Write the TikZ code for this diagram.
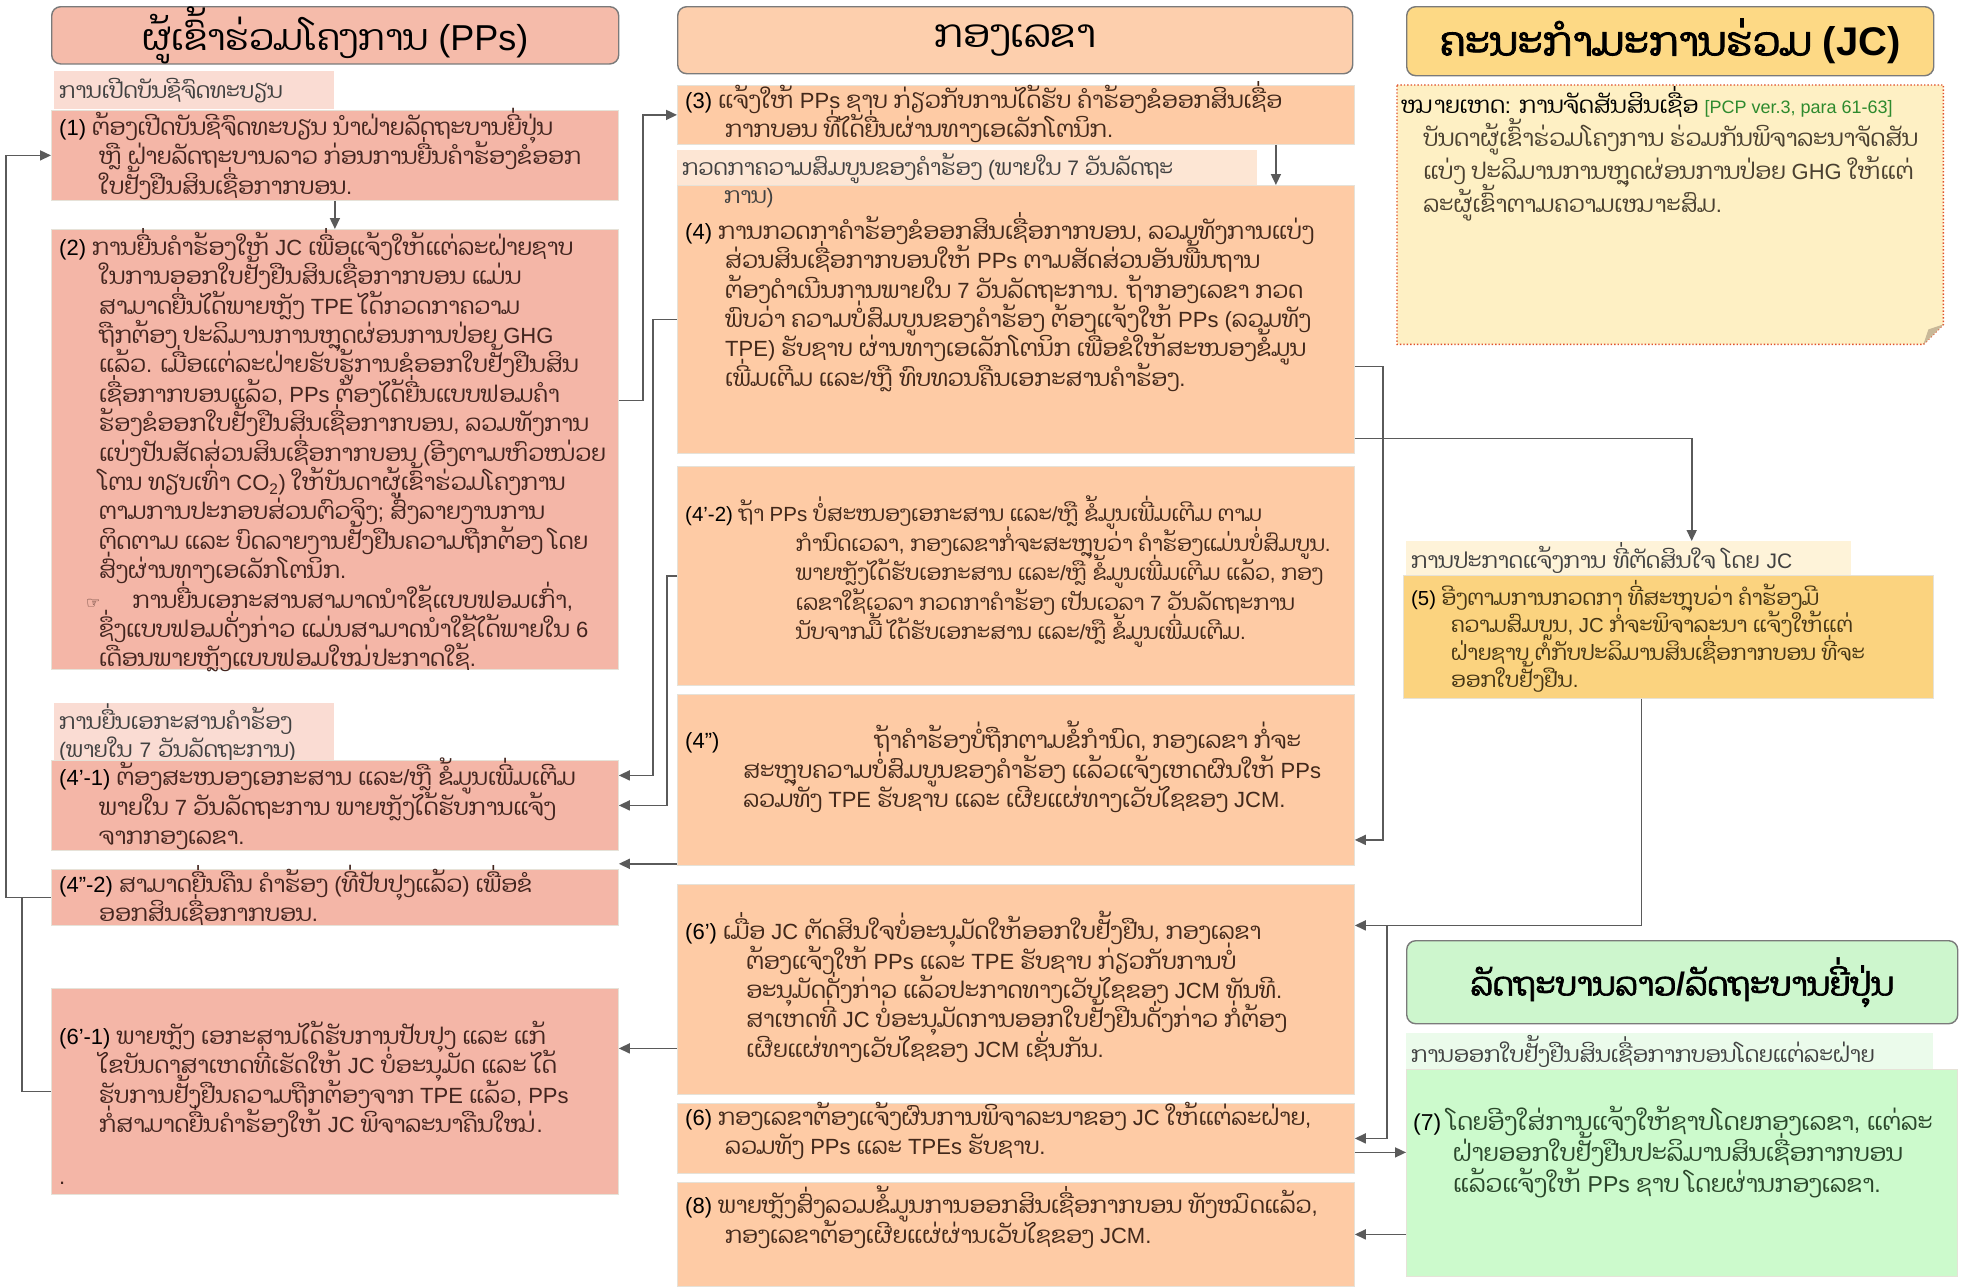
\documentclass[tikz,border=0pt]{standalone}
\usepackage{fontspec}
\setmainfont{Liberation Sans}
\newfontfamily\laobody[Script=Lao,Scale=1.05,AutoFakeBold=2]{Dhyana}
\newfontfamily\laoplain[Script=Lao,AutoFakeBold=2]{Dhyana}
\newfontfamily\latinfont{Liberation Sans}
\newfontfamily\symfont{DejaVu Sans}
\usepackage{xcolor}
\usepackage{tikz}
\usetikzlibrary{positioning,calc,arrows.meta}

% Lao runs go to Dhyana, everything else stays in Liberation Sans
\let\curlao\laobody
\XeTeXinterchartokenstate=1
\newXeTeXintercharclass\laoclass
\newcount\laochar
\laochar="0E80
\loop
  \XeTeXcharclass\laochar=\laoclass
  \advance\laochar by 1
\ifnum\laochar<"0F00 \repeat
\XeTeXinterchartoks 0 \laoclass = {\curlao}
\XeTeXinterchartoks 4095 \laoclass = {\curlao}
\XeTeXinterchartoks \laoclass 0 = {\latinfont}
\XeTeXinterchartoks \laoclass 4095 = {\latinfont}

\definecolor{pphead}{HTML}{F5BBAA}
\definecolor{ppfill}{HTML}{F4B6A7}
\definecolor{pplabel}{HTML}{FADCD3}
\definecolor{pptext}{HTML}{42241E}
\definecolor{sechead}{HTML}{FDCFAD}
\definecolor{secfill}{HTML}{FECBA5}
\definecolor{seclabel}{HTML}{FDE6D4}
\definecolor{sectext}{HTML}{42281A}
\definecolor{jchead}{HTML}{FDD985}
\definecolor{jcnote}{HTML}{FEF0C4}
\definecolor{jcfill}{HTML}{FBD37F}
\definecolor{jclabel}{HTML}{FEF3D9}
\definecolor{jctext}{HTML}{443414}
\definecolor{govhead}{HTML}{CDF6CD}
\definecolor{govfill}{HTML}{CCFACC}
\definecolor{govlabel}{HTML}{EBFBEB}
\definecolor{govtext}{HTML}{2A462A}
\definecolor{labtext}{HTML}{404040}
\definecolor{notetext}{HTML}{4A4030}
\definecolor{pcpgreen}{HTML}{2E8A2E}
\definecolor{notered}{HTML}{E0502A}
\definecolor{foldtan}{HTML}{C8B898}
\definecolor{edge}{HTML}{E6E2D8}
\definecolor{headline}{HTML}{7A7A7A}
\definecolor{wire}{HTML}{5A5A5A}

\newcommand{\bodyfont}{\fontsize{22}{29.4}\selectfont\lineskiplimit=-40pt\relax}
\newcommand{\smallbody}{\fontsize{20.5}{29.4}\selectfont\lineskiplimit=-40pt\relax}
\newcommand{\govfont}{\fontsize{23}{31}\selectfont\lineskiplimit=-40pt\relax}
\newcommand{\labelfont}{\fontsize{21}{28}\selectfont\lineskiplimit=-40pt\relax}
\newcommand{\notefont}{\fontsize{22}{33}\selectfont\lineskiplimit=-40pt\relax}
\newcommand{\fivefont}{\fontsize{20.3}{27.5}\selectfont\lineskiplimit=-40pt\relax}
\newcommand{\headfont}[1]{\fontsize{#1}{#1}\selectfont\let\curlao\laoplain}
\newcommand{\ind}[1][40]{\hspace*{#1pt}}
\newcommand{\stepno}[1]{{\color{black}#1}}

\begin{document}
\begin{tikzpicture}[x=1pt, y=1pt,
    box/.style={draw=edge, line width=0.8pt, fill=#1, inner sep=0pt, anchor=north west},
    head/.style={draw=headline, line width=1.4pt, rounded corners=9pt, fill=#1, inner sep=0pt, anchor=north west},
    tag/.style={fill=#1, inner sep=0pt, inner xsep=5pt, anchor=north west, align=left, text=labtext, font=\labelfont},
    txt/.style={anchor=north west, inner sep=0pt, align=left, font=\bodyfont, text=#1},
    link/.style={draw=wire, line width=1.6pt},
    arr/.style={link, -{Triangle[length=11pt, width=10pt]}}]

    \fill[white] (0,0) rectangle (1961,-1286);
    \useasboundingbox (0,0) rectangle (1961,-1286);

    % Project participants
    \node[head=pphead, minimum width=567, minimum height=57, font=\headfont{36}] (pphdr) at (51,-6) {ຜູ້ເຂົ້າຮ່ວມໂຄງການ (PPs)};
    \node[tag=pplabel, text width=270, minimum height=38] (pplab1) at (54,-71) {ການເປີດບັນຊີຈົດທະບຽນ};
    \node[box=ppfill, minimum width=567, minimum height=90] (n1) at (51,-110) {};
    \node[txt=pptext] (t1) at (59,-108) {\stepno{(1)} ຕ້ອງເປີດບັນຊີຈົດທະບຽນ ນຳຝ່າຍລັດຖະບານຍີ່ປຸ່ນ\\
        \ind ຫຼື ຝ່າຍລັດຖະບານລາວ ກ່ອນການຍື່ນຄຳຮ້ອງຂໍອອກ\\
        \ind ໃບຢັ້ງຢືນສິນເຊື່ອກາກບອນ.};
    \node[box=ppfill, minimum width=567, minimum height=440] (n2) at (51,-229) {};
    \node[txt=pptext] (t2) at (59,-228) {\stepno{(2)} ການຍື່ນຄຳຮ້ອງໃຫ້ JC ເພື່ອແຈ້ງໃຫ້ແຕ່ລະຝ່າຍຊາບ\\
        \ind ໃນການອອກໃບຢັ້ງຢືນສິນເຊື່ອກາກບອນ ແມ່ນ\\
        \ind ສາມາດຍື່ນໄດ້ພາຍຫຼັງ TPE ໄດ້ກວດກາຄວາມ\\
        \ind ຖືກຕ້ອງ ປະລິມານການຫຼຸດຜ່ອນການປ່ອຍ GHG\\
        \ind ແລ້ວ. ເມື່ອແຕ່ລະຝ່າຍຮັບຮູ້ການຂໍອອກໃບຢັ້ງຢືນສິນ\\
        \ind ເຊື່ອກາກບອນແລ້ວ, PPs ຕ້ອງໄດ້ຍື່ນແບບຟອມຄຳ\\
        \ind ຮ້ອງຂໍອອກໃບຢັ້ງຢືນສິນເຊື່ອກາກບອນ, ລວມທັງການ\\
        \ind ແບ່ງປັນສັດສ່ວນສິນເຊື່ອກາກບອນ (ອີງຕາມຫົວໜ່ວຍ\\
        \ind ໂຕນ ທຽບເທົ່າ CO\textsubscript{2}) ໃຫ້ບັນດາຜູ້ເຂົ້າຮ່ວມໂຄງການ\\
        \ind ຕາມການປະກອບສ່ວນຕົວຈິງ; ສົ່ງລາຍງານການ\\
        \ind ຕິດຕາມ ແລະ ບົດລາຍງານຢັ້ງຢືນຄວາມຖືກຕ້ອງ ໂດຍ\\
        \ind ສົ່ງຜ່ານທາງເອເລັກໂຕນິກ.\\
        \ind[27]{\symfont\fontsize{16}{20}\selectfont ☞}\hspace{32pt}ການຍື່ນເອກະສານສາມາດນຳໃຊ້ແບບຟອມເກົ່າ,\\
        \ind ຊຶ່ງແບບຟອມດັ່ງກ່າວ ແມ່ນສາມາດນຳໃຊ້ໄດ້ພາຍໃນ 6\\
        \ind ເດືອນພາຍຫຼັງແບບຟອມໃໝ່ປະກາດໃຊ້.};
    \node[tag=pplabel, text width=270, minimum height=57] (pplab2) at (54,-703) {ການຍື່ນເອກະສານຄຳຮ້ອງ\\ (ພາຍໃນ 7 ວັນລັດຖະການ)};
    \node[box=ppfill, minimum width=567, minimum height=90] (n4pa) at (51,-760) {};
    \node[txt=pptext] (t4pa) at (59,-758) {\stepno{(4’-1)} ຕ້ອງສະໜອງເອກະສານ ແລະ/ຫຼື ຂໍ້ມູນເພີ່ມເຕີມ\\
        \ind ພາຍໃນ 7 ວັນລັດຖະການ ພາຍຫຼັງໄດ້ຮັບການແຈ້ງ\\
        \ind ຈາກກອງເລຂາ.};
    \node[box=ppfill, minimum width=567, minimum height=56] (n4ppb) at (51,-869) {};
    \node[txt=pptext] (t4ppb) at (59,-865) {\stepno{(4”-2)} ສາມາດຍື່ນຄືນ ຄຳຮ້ອງ (ທີ່ປັບປຸງແລ້ວ) ເພື່ອຂໍ\\
        \ind ອອກສິນເຊື່ອກາກບອນ.};
    \node[box=ppfill, minimum width=567, minimum height=206] (n6pa) at (51,-988) {};
    \node[txt=pptext] (t6pa) at (59,-1021) {\stepno{(6’-1)} ພາຍຫຼັງ ເອກະສານໄດ້ຮັບການປັບປຸງ ແລະ ແກ້\\
        \ind ໄຂບັນດາສາເຫດທີ່ເຮັດໃຫ້ JC ບໍ່ອະນຸມັດ ແລະ ໄດ້\\
        \ind ຮັບການຢັ້ງຢືນຄວາມຖືກຕ້ອງຈາກ TPE ແລ້ວ, PPs\\
        \ind ກໍ່ສາມາດຍື່ນຄຳຮ້ອງໃຫ້ JC ພິຈາລະນາຄືນໃໝ່.\\[22pt]
        .};

    % Secretariat
    \node[head=sechead, minimum width=675, minimum height=67, font=\headfont{39}] (sechdr) at (677,-6) {ກອງເລຂາ};
    \node[box=secfill, minimum width=677, minimum height=59] (n3) at (677,-85) {};
    \node[txt=sectext] (t3) at (685,-81) {\stepno{(3)} ແຈ້ງໃຫ້ PPs ຊາບ ກ່ຽວກັບການໄດ້ຮັບ ຄຳຮ້ອງຂໍອອກສິນເຊື່ອ\\
        \ind ກາກບອນ ທີ່ໄດ້ຍື່ນຜ່ານທາງເອເລັກໂຕນິກ.};
    \node[box=secfill, minimum width=677, minimum height=268] (n4) at (677,-185) {};
    \node[tag=seclabel, minimum width=580, minimum height=35] (seclab) at (677,-150) {};
    \node[txt=labtext, font=\labelfont] (seclabt) at (682,-153) {ກວດກາຄວາມສົມບູນຂອງຄຳຮ້ອງ (ພາຍໃນ 7 ວັນລັດຖະ\\
        \ind[36] ການ)};
    \node[txt=sectext] (t4) at (685,-212) {\stepno{(4)} ການກວດກາຄຳຮ້ອງຂໍອອກສິນເຊື່ອກາກບອນ, ລວມທັງການແບ່ງ\\
        \ind ສ່ວນສິນເຊື່ອກາກບອນໃຫ້ PPs ຕາມສັດສ່ວນອັນພື້ນຖານ\\
        \ind ຕ້ອງດຳເນີນການພາຍໃນ 7 ວັນລັດຖະການ. ຖ້າກອງເລຂາ ກວດ\\
        \ind ພົບວ່າ ຄວາມບໍ່ສົມບູນຂອງຄຳຮ້ອງ ຕ້ອງແຈ້ງໃຫ້ PPs (ລວມທັງ\\
        \ind TPE) ຮັບຊາບ ຜ່ານທາງເອເລັກໂຕນິກ ເພື່ອຂໍໃຫ້ສະໜອງຂໍ້ມູນ\\
        \ind ເພີ່ມເຕີມ ແລະ/ຫຼື ທົບທວນຄືນເອກະສານຄຳຮ້ອງ.};
    \node[box=secfill, minimum width=677, minimum height=219] (n4pb) at (677,-466) {};
    \node[txt=sectext, font=\smallbody] (t4pb) at (685,-496) {\stepno{(4’-2)} ຖ້າ PPs ບໍ່ສະໜອງເອກະສານ ແລະ/ຫຼື ຂໍ້ມູນເພີ່ມເຕີມ ຕາມ\\
        \ind[105] ກຳນົດເວລາ, ກອງເລຂາກໍ່ຈະສະຫຼຸບວ່າ ຄຳຮ້ອງແມ່ນບໍ່ສົມບູນ.\\
        \ind[105] ພາຍຫຼັງໄດ້ຮັບເອກະສານ ແລະ/ຫຼື ຂໍ້ມູນເພີ່ມເຕີມ ແລ້ວ, ກອງ\\
        \ind[105] ເລຂາໃຊ້ເວລາ ກວດກາຄຳຮ້ອງ ເປັນເວລາ 7 ວັນລັດຖະການ\\
        \ind[105] ນັບຈາກມື້ ໄດ້ຮັບເອກະສານ ແລະ/ຫຼື ຂໍ້ມູນເພີ່ມເຕີມ.};
    \node[box=secfill, minimum width=677, minimum height=171] (n4pp) at (677,-694) {};
    \node[txt=sectext] (t4pp) at (685,-721) {\stepno{(4”)}\hspace{155pt}ຖ້າຄຳຮ້ອງບໍ່ຖືກຕາມຂໍ້ກຳນົດ, ກອງເລຂາ ກໍ່ຈະ\\
        \ind[52] ສະຫຼຸບຄວາມບໍ່ສົມບູນຂອງຄຳຮ້ອງ ແລ້ວແຈ້ງເຫດຜົນໃຫ້ PPs\\
        \ind[52] ລວມທັງ TPE ຮັບຊາບ ແລະ ເຜີຍແຜ່ທາງເວັບໄຊຂອງ JCM.};
    \node[box=secfill, minimum width=677, minimum height=210] (n6p) at (677,-884) {};
    \node[txt=sectext] (t6p) at (685,-911) {\stepno{(6’)} ເມື່ອ JC ຕັດສິນໃຈບໍ່ອະນຸມັດໃຫ້ອອກໃບຢັ້ງຢືນ, ກອງເລຂາ\\
        \ind[55] ຕ້ອງແຈ້ງໃຫ້ PPs ແລະ TPE ຮັບຊາບ ກ່ຽວກັບການບໍ່\\
        \ind[55] ອະນຸມັດດັ່ງກ່າວ ແລ້ວປະກາດທາງເວັບໄຊຂອງ JCM ທັນທີ.\\
        \ind[55] ສາເຫດທີ່ JC ບໍ່ອະນຸມັດການອອກໃບຢັ້ງຢືນດັ່ງກ່າວ ກໍ່ຕ້ອງ\\
        \ind[55] ເຜີຍແຜ່ທາງເວັບໄຊຂອງ JCM ເຊັ່ນກັນ.};
    \node[box=secfill, minimum width=677, minimum height=70] (n6) at (677,-1103) {};
    \node[txt=sectext] (t6) at (685,-1102) {\stepno{(6)} ກອງເລຂາຕ້ອງແຈ້ງຜົນການພິຈາລະນາຂອງ JC ໃຫ້ແຕ່ລະຝ່າຍ,\\
        \ind ລວມທັງ PPs ແລະ TPEs ຮັບຊາບ.};
    \node[box=secfill, minimum width=677, minimum height=104] (n8) at (677,-1182) {};
    \node[txt=sectext] (t8) at (685,-1186) {\stepno{(8)} ພາຍຫຼັງສົ່ງລວມຂໍ້ມູນການອອກສິນເຊື່ອກາກບອນ ທັງໝົດແລ້ວ,\\
        \ind ກອງເລຂາຕ້ອງເຜີຍແຜ່ຜ່ານເວັບໄຊຂອງ JCM.};

    % Joint Committee
    \node[head=jchead, minimum width=527, minimum height=69, font=\headfont{40}\bfseries] (jchdr) at (1406,-6) {ຄະນະກຳມະການຮ່ວມ (JC)};
    \node[minimum width=546, minimum height=259, inner sep=0pt, anchor=north west] (note) at (1397,-85) {};
    \filldraw[fill=jcnote, draw=notered, dotted, line width=1.4pt] (note.north west) -- (note.north east) -- ([yshift=20pt]note.south east) -- ([xshift=-20pt]note.south east) -- (note.south west) -- cycle;
    \fill[foldtan] ([yshift=20pt]note.south east) -- ([xshift=-20pt]note.south east) -- ([xshift=-15pt,yshift=15pt]note.south east) -- cycle;
    \node[txt=notetext, font=\notefont] (tnote) at (1401,-86) {{\color{black}ໝາຍເຫດ: ການຈັດສັນສິນເຊື່ອ} {\fontsize{18}{20}\selectfont\color{pcpgreen}[PCP ver.3, para 61-63]}\\
        \ind[16] ບັນດາຜູ້ເຂົ້າຮ່ວມໂຄງການ ຮ່ວມກັນພິຈາລະນາຈັດສັນ\\
        \ind[16] ແບ່ງ ປະລິມານການຫຼຸດຜ່ອນການປ່ອຍ GHG ໃຫ້ແຕ່\\
        \ind[16] ລະຜູ້ເຂົ້າຕາມຄວາມເໝາະສົມ.};
    \node[tag=jclabel, text width=435, minimum height=34] (n5lab) at (1406,-541) {ການປະກາດແຈ້ງການ ທີ່ຕັດສິນໃຈ ໂດຍ JC};
    \node[box=jcfill, minimum width=530, minimum height=123] (n5) at (1403,-575) {};
    \node[txt=jctext, font=\fivefont] (t5) at (1411,-580) {\stepno{(5)} ອີງຕາມການກວດກາ ທີ່ສະຫຼຸບວ່າ ຄຳຮ້ອງມີ\\
        \ind ຄວາມສົມບູນ, JC ກໍ່ຈະພິຈາລະນາ ແຈ້ງໃຫ້ແຕ່\\
        \ind ຝ່າຍຊາບ ຕໍ່ກັບປະລິມານສິນເຊື່ອກາກບອນ ທີ່ຈະ\\
        \ind ອອກໃບຢັ້ງຢືນ.};

    % Governments
    \node[head=govhead, minimum width=551, minimum height=83, font=\headfont{32.5}\bfseries] (govhdr) at (1406,-940) {ລັດຖະບານລາວ/ລັດຖະບານຍີ່ປຸ່ນ};
    \node[tag=govlabel, text width=517, minimum height=36] (n7lab) at (1406,-1033) {ການອອກໃບຢັ້ງຢືນສິນເຊື່ອກາກບອນໂດຍແຕ່ລະຝ່າຍ};
    \node[box=govfill, minimum width=551, minimum height=207] (n7) at (1406,-1069) {};
    \node[txt=govtext, font=\govfont] (t7) at (1413,-1106) {\stepno{(7)} ໂດຍອີງໃສ່ການແຈ້ງໃຫ້ຊາບໂດຍກອງເລຂາ, ແຕ່ລະ\\
        \ind ຝ່າຍອອກໃບຢັ້ງຢືນປະລິມານສິນເຊື່ອກາກບອນ\\
        \ind ແລ້ວແຈ້ງໃຫ້ PPs ຊາບ ໂດຍຜ່ານກອງເລຂາ.};

    % Connectors
    \coordinate (lbus) at (6,0);
    \coordinate (lbus2) at (22,0);
    \draw[arr] (n1.south) -- (n2.north);
    \draw[arr] ([xshift=260pt]n3.south) -- ([xshift=260pt]n4.north);
    \draw[arr] (n4ppb.west) -- (n4ppb.west -| lbus) |- (n1.west);
    \draw[link] (n6pa.west) -| (lbus2 |- n4ppb.west);
    \draw[arr] ([yshift=49pt]n2.east) -- ++(24,0) |- (n3.west);
    \draw[arr] (n4.west) -- ++(-24,0) |- ([yshift=30pt]n4pa.east);
    \draw[arr] (n4pb.west) -- ++(-10,0) |- (n4pa.east);
    \draw[arr] ([yshift=2pt]n4pp.south west) -- ([yshift=2pt]n4pp.south west -| n4ppb.east);
    \draw[arr] ([yshift=-59pt]n6p.west) -- ([yshift=-59pt]n6p.west -| n6pa.east);
    \draw[arr] ([yshift=-47pt]n4.east) -- ++(28,0) |- ([yshift=-60pt]n4pp.east);
    \draw[arr] ([yshift=-119pt]n4.east) -| ([xshift=63pt]n5lab.north);
    \draw[arr] ([xshift=-27pt]n5.south) |- ([yshift=64pt]n6p.east);
    \coordinate (jcdrop) at ([xshift=32pt, yshift=64pt]n6p.east);
    \draw[arr] (jcdrop) |- (n6.east);
    \draw[arr] ([yshift=-14pt]n6.east) -- ([yshift=-14pt]n6.east -| n7.west);
    \draw[arr] (n7.west |- n8.east) -- (n8.east);
\end{tikzpicture}
\end{document}
